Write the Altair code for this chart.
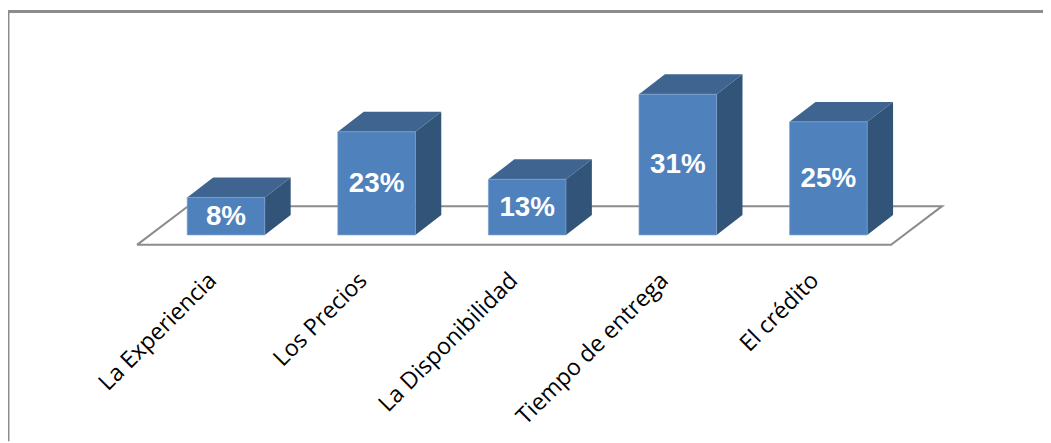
import altair as alt
import pandas as pd

categories = ["La Experiencia", "Los Precios", "La Disponibilidad", "Tiempo de entrega", "El crédito"]
values = [8.3, 22.8, 12.3, 31.1, 25.0]
value_labels = ["8%", "23%", "13%", "31%", "25%"]

HALF = 0.2575
DX = 0.172
DY = 4.4
X_MIN, X_MAX = -1.4475, 5.425
Y_MIN, Y_MAX = -45.61, 49.78
CAT_X = alt.Scale(domain=[X_MIN, X_MAX], range=[0, 1043])
VAL_Y = alt.Scale(domain=[Y_MIN, Y_MAX], range=[435, 0])

X = lambda f: alt.X(f, type="quantitative", scale=CAT_X, axis=None)
Y = lambda f: alt.Y(f, type="quantitative", scale=VAL_Y, axis=None)

front = pd.DataFrame({"i": range(5), "v": values, "cat": categories, "lab": value_labels})
front["x0"] = front.i - HALF
front["x1"] = front.i + HALF
front["y0"] = 0.0
front["mid"] = front.v / 2
front["lx"] = front.i - 0.087
front["ly"] = -9.3

side = pd.DataFrame(
    [{"b": i, "x": i + HALF, "y": v, "y2": 0.0} for i, v in enumerate(values)]
    + [{"b": i, "x": i + HALF + DX, "y": v + DY, "y2": DY} for i, v in enumerate(values)]
)
top = pd.DataFrame(
    [{"b": i, "y": v, "x": i - HALF, "x2": i + HALF} for i, v in enumerate(values)]
    + [{"b": i, "y": v + DY, "x": i - HALF + DX, "x2": i + HALF + DX} for i, v in enumerate(values)]
)
floor = pd.DataFrame({
    "o": [0, 1, 2, 3, 4],
    "x": [-0.591, 4.416, 4.755, -0.252, -0.591],
    "y": [-2.19, -2.19, 6.36, 6.36, -2.19],
})
frame = pd.DataFrame({"x": [X_MIN, X_MIN, X_MAX], "y": [Y_MIN, 49.4, 49.4], "o": [0, 1, 2]})

GRAY = "#8c8c8c"
frame_l = alt.Chart(frame).mark_line(color=GRAY, strokeWidth=3).encode(
    x=X("x"), y=Y("y"), order="o:O")
floor_l = alt.Chart(floor).mark_line(color=GRAY, strokeWidth=2).encode(
    x=X("x"), y=Y("y"), order="o:O")
side_l = alt.Chart(side).mark_area(color="#335479", orient="vertical").encode(
    x=X("x"), y=Y("y"), y2="y2", detail="b:N")
top_l = alt.Chart(top).mark_area(color="#3e648f", orient="horizontal").encode(
    y=Y("y"), x=X("x"), x2="x2", detail="b:N")
front_l = alt.Chart(front).mark_rect(color="#4f81bd", stroke="#7ba0d0", strokeWidth=0.7).encode(
    x=X("x0"), x2="x1", y=Y("y0"), y2="v")
val_l = alt.Chart(front).mark_text(
    color="white", font="Liberation Sans", fontWeight="bold", fontSize=28, dy=1,
    align="center", baseline="middle").encode(x=X("i"), y=Y("mid"), text="lab")
cat_l = alt.Chart(front).mark_text(
    color="black", font="Open Sans", fontSize=23.3, angle=315,
    align="right", baseline="middle").encode(x=X("lx"), y=Y("ly"), text="cat")

chart = alt.layer(frame_l, floor_l, side_l, top_l, front_l, val_l, cat_l).properties(
    width=1043, height=435, padding=0,
    autosize=alt.AutoSizeParams(type="none"),
    background="white",
).configure_view(stroke=None)

chart.save("out.html", embed_options={"renderer": "svg", "actions": False})
